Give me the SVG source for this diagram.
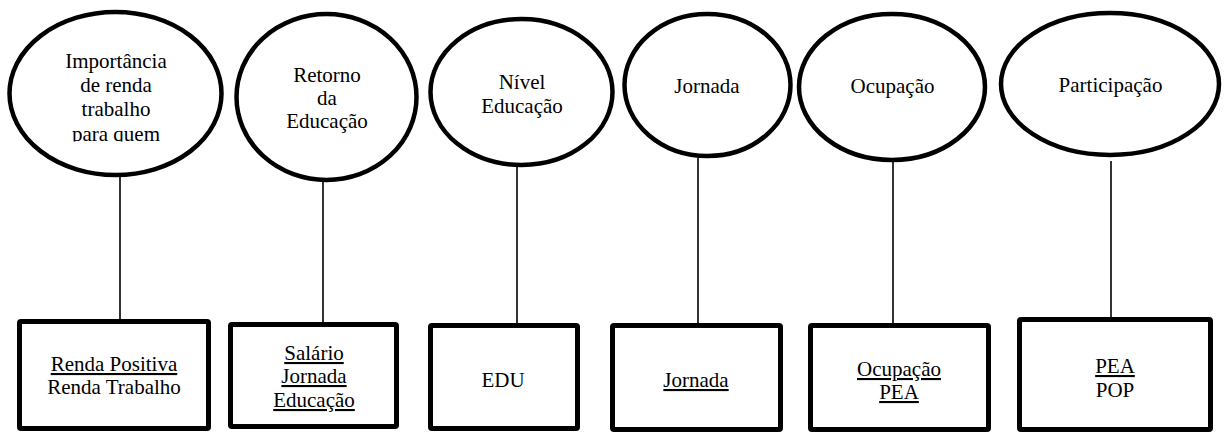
<svg xmlns="http://www.w3.org/2000/svg" width="1224" height="432" viewBox="0 0 1224 432">
<style>
.oval{fill:#fff;stroke:#000;stroke-width:4.5}
.box{fill:#fff;stroke:#000;stroke-width:5;stroke-linejoin:round}
text{font-family:'Liberation Serif','DejaVu Serif',serif;font-size:21px;fill:#000;text-anchor:middle}
.u{text-decoration:underline}
.conn line{stroke:#000;stroke-width:1.6}
</style>
<defs>
<clipPath id="clip1"><rect x="0" y="0" width="240" height="141.5"/></clipPath>
</defs>
<rect width="1224" height="432" fill="#fff"/>
<g id="connectors" class="conn">
<line x1="120" y1="177" x2="120" y2="319"/>
<line x1="323" y1="181" x2="323" y2="322"/>
<line x1="517" y1="166" x2="517" y2="323"/>
<line x1="698" y1="158" x2="698" y2="323"/>
<line x1="893" y1="161" x2="893" y2="323"/>
<line x1="1111" y1="161" x2="1111" y2="317"/>
</g>
<g font-family="Liberation Serif, DejaVu Serif, serif">
<g id="oval1">
<ellipse class="oval" cx="115.5" cy="93.5" rx="106" ry="81.5"/>
<g clip-path="url(#clip1)">
<text x="116" y="68">Importância</text>
<text x="116" y="92">de renda</text>
<text x="116" y="116">trabalho</text>
<text x="116" y="140.5">para quem</text>
</g>
</g>
<g id="oval2">
<ellipse class="oval" cx="326.5" cy="97" rx="90" ry="83"/>
<text x="327" y="82">Retorno</text>
<text x="327" y="105">da</text>
<text x="327" y="128">Educação</text>
</g>
<g id="oval3">
<ellipse class="oval" cx="521.5" cy="92" rx="91" ry="73"/>
<text x="522" y="89">Nível</text>
<text x="522" y="113">Educação</text>
</g>
<g id="oval4">
<ellipse class="oval" cx="707.5" cy="85" rx="83" ry="71"/>
<text x="707" y="93">Jornada</text>
</g>
<g id="oval5">
<ellipse class="oval" cx="892" cy="87" rx="93" ry="73"/>
<text x="892.5" y="93">Ocupação</text>
</g>
<g id="oval6">
<ellipse class="oval" cx="1110" cy="84" rx="109" ry="71"/>
<text x="1110.5" y="92">Participação</text>
</g>
<g id="box1">
<rect class="box" x="19.5" y="321.5" width="189" height="107" rx="1.5"/>
<text class="u" x="114" y="371">Renda Positiva</text>
<text x="114" y="394">Renda Trabalho</text>
</g>
<g id="box2">
<rect class="box" x="230.5" y="324.5" width="166" height="102" rx="1.5"/>
<text class="u" x="314" y="360">Salário</text>
<text class="u" x="314" y="383">Jornada</text>
<text class="u" x="314" y="407">Educação</text>
</g>
<g id="box3">
<rect class="box" x="430.5" y="325.5" width="147" height="103" rx="1.5"/>
<text x="503" y="387">EDU</text>
</g>
<g id="box4">
<rect class="box" x="612.5" y="325.5" width="168" height="104" rx="1.5"/>
<text class="u" x="696" y="387">Jornada</text>
</g>
<g id="box5">
<rect class="box" x="810.5" y="325.5" width="178" height="104" rx="1.5"/>
<text class="u" x="899" y="376">Ocupação</text>
<text class="u" x="899" y="399">PEA</text>
</g>
<g id="box6">
<rect class="box" x="1019.5" y="319.5" width="191" height="110" rx="1.5"/>
<text class="u" x="1115" y="373">PEA</text>
<text x="1115" y="397">POP</text>
</g>
</g>
</svg>
